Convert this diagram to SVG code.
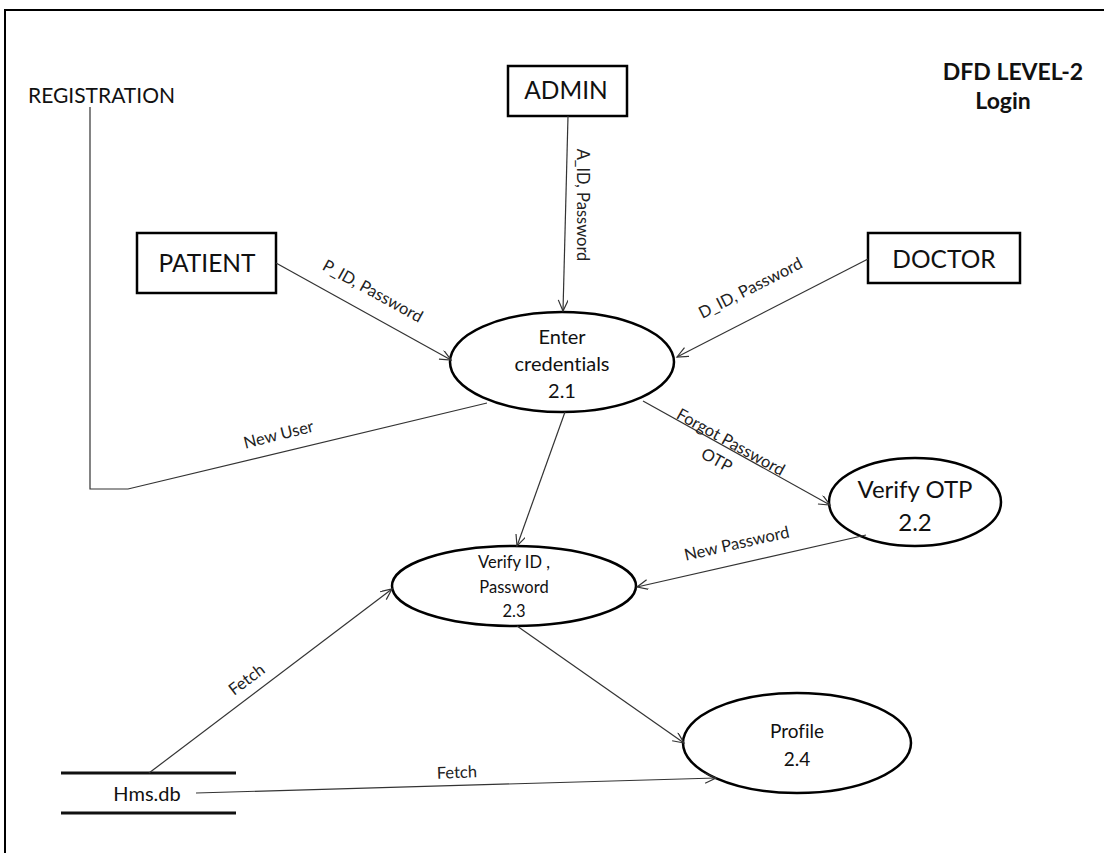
<svg xmlns="http://www.w3.org/2000/svg" width="1104" height="853" viewBox="0 0 1104 853">
  <style>
    .frame { fill: none; stroke: #000; stroke-width: 2; }
    .box { fill: #fff; stroke: #000; stroke-width: 2.5; }
    .proc { fill: #fff; stroke: #000; stroke-width: 2.5; }
    .flow { fill: none; stroke: #333; stroke-width: 1.2; }
    .store { stroke: #111; stroke-width: 3; }
    .t { font-family: Lato, "Liberation Sans", sans-serif; fill: #111; font-variant-ligatures: none; }
    .ent { font-size: 24.5px; text-anchor: middle; }
    .ptxt { font-size: 20px; text-anchor: middle; }
    .lbl { font-size: 16.5px; text-anchor: middle; fill: #222; }
    .title { font-size: 23px; font-weight: bold; text-anchor: middle; }
  </style>
  <defs>
    <marker id="arrow" markerWidth="14" markerHeight="12" refX="12" refY="5" orient="auto" markerUnits="userSpaceOnUse">
      <path d="M1,0 L12,5 L1,10" fill="none" stroke="#333" stroke-width="1.2"/>
    </marker>
  </defs>

  <rect width="1104" height="853" fill="#fff"/>
  <path class="frame" d="M5,853 V10 H1104"/>

  <!-- title -->
  <g id="title">
    <text class="t title" x="1013" y="80">DFD LEVEL-2</text>
    <text class="t title" x="1003" y="109">Login</text>
  </g>

  <!-- external entities -->
  <g id="registration">
    <text class="t" x="28" y="103" font-size="21">REGISTRATION</text>
  </g>
  <g id="admin">
    <rect class="box" x="508" y="66" width="119" height="50"/>
    <text class="t ent" x="566" y="99">ADMIN</text>
  </g>
  <g id="patient">
    <rect class="box" x="137" y="233" width="139" height="60"/>
    <text class="t ent" x="207" y="272">PATIENT</text>
  </g>
  <g id="doctor">
    <rect class="box" x="868" y="233" width="152" height="50"/>
    <text class="t ent" x="944" y="268">DOCTOR</text>
  </g>

  <!-- processes -->
  <g id="p2-1">
    <ellipse class="proc" cx="562" cy="362" rx="112" ry="50"/>
    <text class="t ptxt" x="562" y="344">Enter</text>
    <text class="t ptxt" x="562" y="371">credentials</text>
    <text class="t ptxt" x="562" y="398">2.1</text>
  </g>
  <g id="p2-2">
    <ellipse class="proc" cx="915" cy="502" rx="86" ry="44"/>
    <text class="t" x="915" y="498" font-size="24" text-anchor="middle">Verify OTP</text>
    <text class="t" x="915" y="531" font-size="24" text-anchor="middle">2.2</text>
  </g>
  <g id="p2-3">
    <ellipse class="proc" cx="514" cy="586" rx="122" ry="40"/>
    <text class="t" x="514" y="568" font-size="16.5" text-anchor="middle">Verify ID ,</text>
    <text class="t" x="514" y="593" font-size="16.5" text-anchor="middle">Password</text>
    <text class="t" x="514" y="617" font-size="16.5" text-anchor="middle">2.3</text>
  </g>
  <g id="p2-4">
    <ellipse class="proc" cx="797" cy="743" rx="114" ry="50"/>
    <text class="t" x="797" y="738" font-size="19" text-anchor="middle">Profile</text>
    <text class="t" x="797" y="766" font-size="19" text-anchor="middle">2.4</text>
  </g>

  <!-- data store -->
  <g id="hms-db">
    <line class="store" x1="61" y1="773" x2="236" y2="773"/>
    <line class="store" x1="61" y1="813" x2="236" y2="813"/>
    <text class="t" x="147" y="801" font-size="20" text-anchor="middle">Hms.db</text>
  </g>

  <!-- data flows -->
  <g id="connectors">
    <polyline class="flow" points="90,107 90,489 128,489 487,403"/>
    <line class="flow" x1="568" y1="116" x2="563" y2="311" marker-end="url(#arrow)"/>
    <line class="flow" x1="276" y1="263" x2="451" y2="360" marker-end="url(#arrow)"/>
    <line class="flow" x1="868" y1="259" x2="677" y2="357" marker-end="url(#arrow)"/>
    <line class="flow" x1="643" y1="401" x2="830" y2="505" marker-end="url(#arrow)"/>
    <line class="flow" x1="565" y1="412" x2="517" y2="546" marker-end="url(#arrow)"/>
    <line class="flow" x1="866" y1="535" x2="637" y2="587" marker-end="url(#arrow)"/>
    <line class="flow" x1="149" y1="773" x2="392" y2="589" marker-end="url(#arrow)"/>
    <line class="flow" x1="517" y1="626" x2="684" y2="743" marker-end="url(#arrow)"/>
    <line class="flow" x1="196" y1="793" x2="716" y2="778" marker-end="url(#arrow)"/>

    <text class="t lbl" transform="translate(577,205) rotate(90)">A_ID, Password</text>
    <text class="t lbl" transform="translate(370,296) rotate(29)">P_ID, Password</text>
    <text class="t lbl" transform="translate(753,293) rotate(-27)">D_ID, Password</text>
    <text class="t lbl" transform="translate(280,440) rotate(-14)">New User</text>
    <text class="t lbl" transform="translate(728,447) rotate(29)">Forgot Password</text>
    <text class="t lbl" transform="translate(714,465) rotate(29)">OTP</text>
    <text class="t lbl" transform="translate(738,549) rotate(-12.8)">New Password</text>
    <text class="t lbl" transform="translate(250,684) rotate(-37)">Fetch</text>
    <text class="t lbl" transform="translate(457,778) rotate(-2)">Fetch</text>
  </g>
</svg>
